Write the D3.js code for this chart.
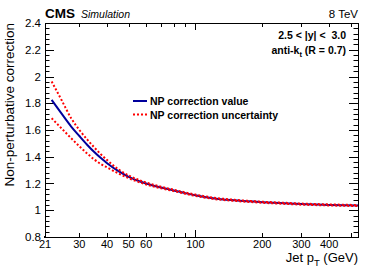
<!DOCTYPE html>
<html>
<head>
<meta charset="utf-8">
<script src="https://cdn.jsdelivr.net/npm/d3@7"></script>
<style>
  body { margin: 0; background: #fff; }
  svg { font-family: "Liberation Sans", Arial, sans-serif; }
</style>
</head>
<body>
<svg id="chart"></svg>
<script>
// values
const pt = [22.5, 25, 27.5, 30, 32.5, 35, 37.5, 40, 45, 50, 60, 70, 80, 90, 100, 120, 150, 200, 250, 300, 400, 540];
const npValue = [1.825, 1.72, 1.628, 1.555, 1.49, 1.435, 1.39, 1.352, 1.292, 1.25, 1.2, 1.17, 1.148, 1.128, 1.112, 1.09, 1.074, 1.06, 1.052, 1.046, 1.04, 1.035];
const npUp = [1.963, 1.82, 1.69, 1.6, 1.53, 1.47, 1.418, 1.375, 1.305, 1.26, 1.207, 1.176, 1.153, 1.133, 1.117, 1.095, 1.078, 1.064, 1.056, 1.05, 1.044, 1.039];
const npDown = [1.688, 1.61, 1.54, 1.478, 1.425, 1.38, 1.345, 1.32, 1.275, 1.24, 1.193, 1.164, 1.143, 1.123, 1.107, 1.085, 1.07, 1.056, 1.048, 1.042, 1.036, 1.031];

const xLabels = [21, 30, 40, 50, 60, 100, 200, 300, 400];
const xMinor = [70, 80, 90, 500];
const yMajor = [0.8, 1, 1.2, 1.4, 1.6, 1.8, 2, 2.2, 2.4];

const width = 374, height = 270;
const margin = { top: 23, right: 16, bottom: 33, left: 45 };

const svg = d3.select('#chart').attr('width', width).attr('height', height);

const x = d3.scaleLog()
    .domain([21, 540])
    .range([margin.left, width - margin.right]);

const y = d3.scaleLinear()
    .domain([0.8, 2.4])
    .range([height - margin.bottom, margin.top]);

const x0 = x.range()[0], x1 = x.range()[1];
const y0 = y.range()[0], y1 = y.range()[1];

// y ticks, both sides, ROOT style (inward)
const yMinor = d3.range(0.8, 2.4001, 0.04);
const tickG = svg.append('g').attr('stroke', '#000').attr('stroke-width', 1);
yMinor.forEach(v => {
    const isMajor = yMajor.some(m => Math.abs(m - v) < 1e-6);
    const len = isMajor ? 9 : 4.5;
    const yy = Math.round(y(v)) + 0.5;
    tickG.append('line').attr('x1', x0).attr('x2', x0 + len).attr('y1', yy).attr('y2', yy);
    tickG.append('line').attr('x1', x1).attr('x2', x1 - len).attr('y1', yy).attr('y2', yy);
});

// x ticks, bottom and top
const xTicks = xLabels.slice(1).concat(xMinor);
xTicks.forEach(v => {
    const len = v === 100 ? 7 : 4;
    const xx = Math.round(x(v)) + 0.5;
    tickG.append('line').attr('x1', xx).attr('x2', xx).attr('y1', y0).attr('y2', y0 - len);
    tickG.append('line').attr('x1', xx).attr('x2', xx).attr('y1', y1).attr('y2', y1 + len);
});

// frame
svg.append('rect')
    .attr('x', x0 + 0.5).attr('y', y1 + 0.5)
    .attr('width', x1 - x0).attr('height', y0 - y1)
    .attr('fill', 'none').attr('stroke', '#000').attr('stroke-width', 1);
svg.append('line')
    .attr('x1', x0).attr('x2', x0).attr('y1', y0 - 1).attr('y2', y0 + 1)
    .attr('stroke', '#000').attr('stroke-width', 2);

// tick labels
svg.append('g').selectAll('text')
    .data(yMajor)
    .enter().append('text')
    .attr('x', x0 - 4)
    .attr('y', d => y(d) + 4)
    .attr('text-anchor', 'end')
    .attr('font-size', 11.5)
    .text(d => d);

svg.append('g').selectAll('text')
    .data(xLabels)
    .enter().append('text')
    .attr('x', d => x(d))
    .attr('y', y0 + 11)
    .attr('text-anchor', 'middle')
    .attr('font-size', 11)
    .text(d => d);

// curves
const idx = d3.range(pt.length);
const line = arr => d3.line()
    .x(i => x(pt[i]))
    .y(i => y(arr[i]))
    .curve(d3.curveMonotoneX)(idx);

svg.append('path').attr('d', line(npValue))
    .attr('fill', 'none').attr('stroke', '#00009c').attr('stroke-width', 2);
[npUp, npDown].forEach(arr => {
    svg.append('path').attr('d', line(arr))
        .attr('fill', 'none').attr('stroke', '#ff0000').attr('stroke-width', 2)
        .attr('stroke-dasharray', '2,2');
});

// legend
const legend = [
    { label: 'NP correction value', color: '#00009c', dash: null },
    { label: 'NP correction uncertainty', color: '#ff0000', dash: '2,2' }
];
legend.forEach((d, i) => {
    const ly = 101 + i * 13.5;
    svg.append('line')
        .attr('x1', 133).attr('x2', 147).attr('y1', ly).attr('y2', ly)
        .attr('stroke', d.color).attr('stroke-width', 2)
        .attr('stroke-dasharray', d.dash);
    svg.append('text')
        .attr('x', 150).attr('y', ly + 4)
        .attr('font-size', 10.5).attr('font-weight', 'bold')
        .text(d.label);
});

// header text
svg.append('text').attr('x', x0).attr('y', 18)
    .attr('font-size', 13.5).attr('font-weight', 'bold').text('CMS');
svg.append('text').attr('x', x0 + 36).attr('y', 18)
    .attr('font-size', 10.5).attr('font-style', 'italic').text('Simulation');
svg.append('text').attr('x', x1).attr('y', 18)
    .attr('text-anchor', 'end').attr('font-size', 11.5).text('8 TeV');

svg.append('text').attr('x', 346).attr('y', 39)
    .attr('text-anchor', 'end').attr('font-size', 10.5).attr('font-weight', 'bold')
    .attr('xml:space', 'preserve').style('white-space', 'pre')
    .text('2.5 < |y| <  3.0');
const ak = svg.append('text').attr('x', 346).attr('y', 54)
    .attr('text-anchor', 'end').attr('font-size', 10.5).attr('font-weight', 'bold');
ak.append('tspan').text('anti-k');
ak.append('tspan').attr('font-size', 7.5).attr('dy', 2.5).text('t');
ak.append('tspan').attr('dy', -2.5).text(' (R = 0.7)');

// axis titles
const xt = svg.append('text').attr('x', x1).attr('y', 261.5)
    .attr('text-anchor', 'end').attr('font-size', 13);
xt.append('tspan').text('Jet p');
xt.append('tspan').attr('font-size', 9.5).attr('dy', 4).text('T');
xt.append('tspan').attr('dy', -4).text(' (GeV)');

svg.append('text')
    .attr('transform', `translate(14, ${y1}) rotate(-90)`)
    .attr('text-anchor', 'end')
    .attr('font-size', 13.5)
    .text('Non-perturbative correction');
</script>
</body>
</html>
